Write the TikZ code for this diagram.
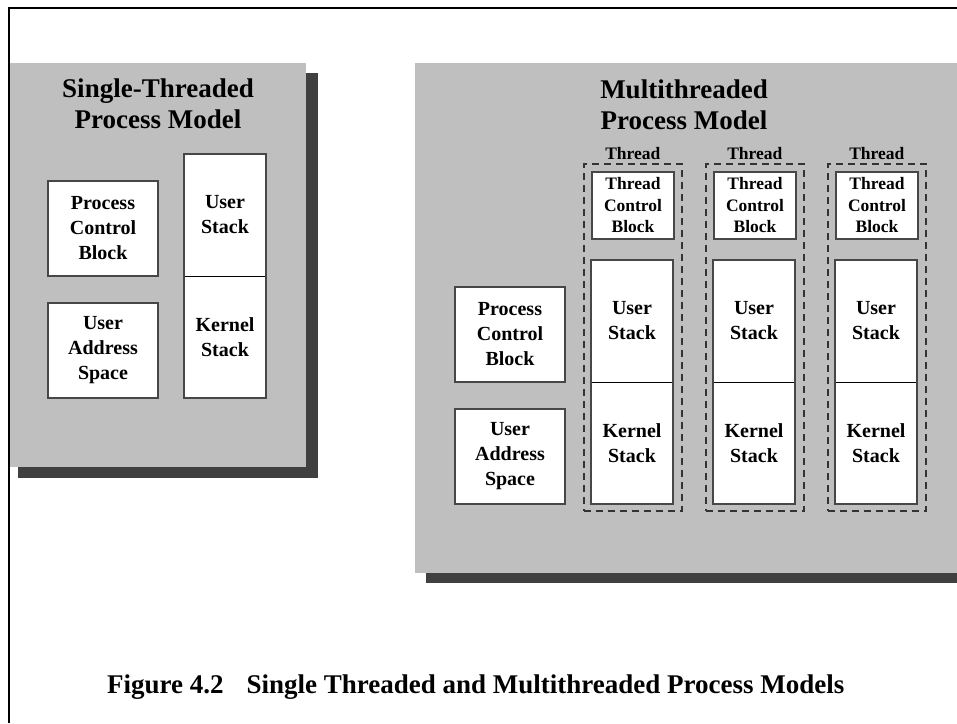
\documentclass[tikz,border=0pt]{standalone}
\usepackage{fontspec}
\setmainfont{Liberation Serif}
\usetikzlibrary{fit}

\definecolor{panelgray}{gray}{0.75}
\definecolor{shadowgray}{gray}{0.25}
\definecolor{edgegray}{gray}{0.28}

\newcommand\boxtxt{\bfseries\fontsize{20}{25}\selectfont}
\newcommand\tcbtxt{\bfseries\fontsize{17.5}{21.5}\selectfont}
\newcommand\headtxt{\bfseries\fontsize{27}{31}\selectfont}
\newcommand\captxt{\bfseries\fontsize{27}{31}\selectfont}

\begin{document}
\begin{tikzpicture}[x=1pt,y=-1pt,
  panel/.style={fill=panelgray},
  dropshade/.style={fill=shadowgray},
  blockbox/.style={draw=edgegray, line width=1.6pt, fill=white, inner sep=0pt,
    align=center, font=\boxtxt, minimum width=110pt, minimum height=95pt},
  tcbbox/.style={draw=edgegray, line width=1.6pt, fill=white, inner sep=0pt,
    align=center, font=\tcbtxt, minimum width=82pt, minimum height=67pt},
  stackcell/.style={fill=white, inner sep=0pt, align=center, font=\boxtxt,
    minimum width=82pt, minimum height=122pt},
  stackedge/.style={draw=edgegray, line width=1.6pt},
  stackdiv/.style={draw=black, line width=0.9pt},
  threadframe/.style={draw=black!80, line width=1.5pt, dash pattern=on 7pt off 5pt,
    inner sep=7pt},
  heading/.style={align=center, font=\headtxt, anchor=base},
  threadlabel/.style={font=\tcbtxt, anchor=base, inner sep=0pt}
]
% page
\fill[white] (0,0) rectangle (957,723);
\useasboundingbox (0,0) rectangle (957,723);

% ---- single-threaded panel ----
\fill[dropshade] (18,73) rectangle (318,478);
\fill[panel] (10,63) rectangle (306,467);

\node[heading] (titleL) at (158,128) {Single-Threaded\\Process Model};

\node[blockbox] (pcbL) at (103,228.5) {Process\\Control\\Block};
\node[blockbox] (uasL) at (103,350.5) {User\\Address\\Space};

\node[stackcell] (usL) at (225,215) {User\\Stack};
\node[stackcell] (ksL) at (225,337) {Kernel\\Stack};
\draw[stackdiv] (usL.south west) -- (usL.south east);
\draw[stackedge] (usL.north west) rectangle (ksL.south east);

% ---- multithreaded panel ----
\fill[dropshade] (426,73) rectangle (957,583);
\fill[panel] (415,63) rectangle (957,573);

\node[heading] (titleR) at (684,129) {Multithreaded\\Process Model};

\node[blockbox] (pcbR) at (510,334.5) {Process\\Control\\Block};
\node[blockbox] (uasR) at (510,456.5) {User\\Address\\Space};

\foreach \i/\cx in {1/633,2/755,3/877}{
  \node[tcbbox] (tcb\i) at (\cx,205.5) {Thread\\Control\\Block};
  \node[stackcell] (us\i) at (\cx-1,321) {User\\Stack};
  \node[stackcell] (ks\i) at (\cx-1,443) {Kernel\\Stack};
  \draw[stackdiv] (us\i.south west) -- (us\i.south east);
  \draw[stackedge] (us\i.north west) rectangle (ks\i.south east);
  \node[threadframe, fit=(tcb\i)(us\i)(ks\i)] (frame\i) {};
  \node[threadlabel, yshift=4pt] (thr\i) at (frame\i.north) {Thread};
}

% ---- outer frame and caption ----
\draw[line width=2pt] (9,723) -- (9,8) -- (957,8);

\node[font=\captxt, anchor=base west, inner sep=0pt] (caption) at (107,693)
  {Figure 4.2\hspace{0.85em}Single Threaded and Multithreaded Process Models};
\end{tikzpicture}
\end{document}
